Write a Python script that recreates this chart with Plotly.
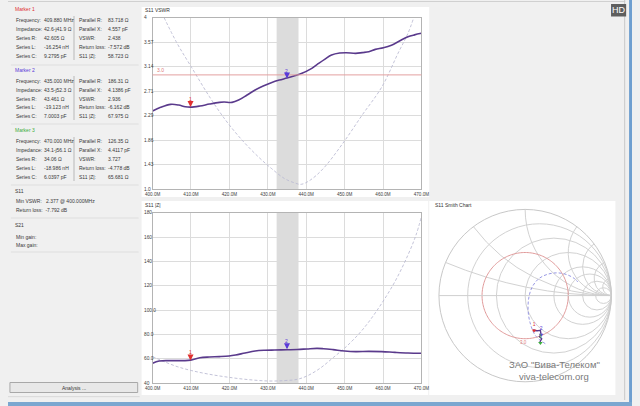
import numpy as np
import plotly.graph_objects as go

W, H = 640, 406
def px(x): return x / W
def py(y): return 1 - y / H

FONT = "Liberation Sans"

# ---------------- data ----------------
x_ticks = [400, 410, 420, 430, 440, 450, 460, 470]
x_tick_labels = ["400.0M", "410.0M", "420.0M", "430.0M", "440.0M", "450.0M", "460.0M", "470.0M"]

vswr_ticks = [1.0, 1.4286, 1.8571, 2.2857, 2.7143, 3.1429, 3.5714, 4.0]
vswr_tick_labels = ["1.0", "1.43", "1.86", "2.29", "2.71", "3.14", "3.57", "4"]

z_ticks = [40, 60, 80, 100, 120, 140, 160, 180]
z_tick_labels = ["40", "60.0", "80.0", "100.0", "120", "140", "160", "180"]

freq_main_vswr = [400.0, 402.1, 404.7, 406.8, 408.5, 409.9, 412.3, 414.8, 417.4, 418.6, 420.7,
                  422.4, 424.6, 426.7, 428.8, 430.9, 433.0, 435.0, 436.8, 438.9, 441.1, 442.8,
                  444.9, 446.6, 448.7, 450.4, 452.9, 454.6, 456.3, 458.0, 460.1, 462.2, 464.4,
                  466.5, 468.2, 470.0]
main_vswr = [2.369, 2.433, 2.485, 2.473, 2.444, 2.436, 2.456, 2.490, 2.520, 2.525, 2.520,
             2.560, 2.648, 2.736, 2.805, 2.864, 2.910, 2.945, 2.980, 3.027, 3.100, 3.180,
             3.277, 3.347, 3.382, 3.388, 3.376, 3.390, 3.405, 3.446, 3.475, 3.520, 3.597,
             3.667, 3.700, 3.727]

freq_ghost_vswr = [403.0, 406.4, 410.2, 414.8, 419.0, 423.3, 427.5, 430.9, 434.3, 436.8, 438.7,
                   441.1, 444.5, 449.5, 454.6, 459.7, 463.9, 466.5, 468.0]
ghost_vswr = [4.0, 3.55, 3.126, 2.62, 2.21, 1.86, 1.57, 1.367, 1.19, 1.116, 1.087,
              1.163, 1.367, 1.80, 2.30, 2.79, 3.376, 3.726, 4.0]

freq_main_z = [400.0, 401.7, 404.7, 408.1, 409.9, 412.3, 414.8, 417.4, 419.9, 421.6, 424.1,
               426.7, 429.2, 431.8, 435.0, 437.7, 440.2, 442.8, 444.5, 447.0, 450.0, 452.9,
               456.3, 459.7, 463.1, 466.5, 470.0]
main_z = [56.4, 58.3, 58.6, 58.6, 59.0, 61.0, 61.6, 61.9, 62.4, 63.2, 64.9,
          66.5, 67.1, 67.3, 67.5, 67.7, 68.2, 68.7, 68.4, 67.6, 66.5, 66.0,
          66.2, 66.0, 65.4, 64.9, 64.6]

freq_ghost_z = [400.0, 403.0, 406.4, 410.2, 414.8, 419.9, 425.0, 430.1, 434.3, 437.7, 440.2,
                443.6, 447.0, 450.4, 454.6, 458.8, 463.1, 466.5, 468.6, 470.0]
ghost_z = [61.9, 57.8, 53.7, 50.4, 47.4, 44.9, 43.0, 41.9, 42.2, 43.3, 46.0,
           52.3, 61.0, 70.0, 83.7, 101.5, 123.4, 145.3, 161.7, 176.7]

band = [432.3, 438.0]
vswr_limit = 3.0

marker_names = ["1", "2", "3"]
marker_colors = ["#e03030", "#5a3ad8", "#3cae3c"]
marker_freq = [409.88, 435.0, 470.0]
marker_vswr = [2.438, 2.936, 3.727]
marker_zmag = [58.723, 67.975, 65.681]
marker_r = [42.6, 43.5, 34.1]
marker_x = [-41.9, -52.3, -56.1]

# Smith chart traces (reflection coefficient)
main_g_re = [0.100, 0.104, 0.140, 0.177, 0.185, 0.166, 0.192, 0.174, 0.177]
main_g_im = [-0.390, -0.406, -0.408, -0.404, -0.456, -0.475, -0.502, -0.532, -0.549]
ghost_g_re = [0.234, 0.120, 0.057, 0.034, 0.045, 0.083, 0.158, 0.253, 0.366, 0.479, 0.574, 0.611]
ghost_g_im = [-0.558, -0.464, -0.313, -0.162, -0.011, 0.102, 0.196, 0.245, 0.264, 0.245, 0.196, 0.158]

marker_rows = [
    [("Frequency:", "409.880 MHz", "Parallel R:", "83.718 Ω"),
     ("Impedance:", "42.6-j41.9 Ω", "Parallel X:", "4.557 pF"),
     ("Series R:", "42.605 Ω", "VSWR:", "2.438"),
     ("Series L:", "-16.254 nH", "Return loss:", "-7.572 dB"),
     ("Series C:", "9.2795 pF", "S11 |Z|:", "58.723 Ω")],
    [("Frequency:", "435.000 MHz", "Parallel R:", "186.31 Ω"),
     ("Impedance:", "43.5-j52.3 Ω", "Parallel X:", "4.1386 pF"),
     ("Series R:", "43.461 Ω", "VSWR:", "2.936"),
     ("Series L:", "-19.123 nH", "Return loss:", "-6.162 dB"),
     ("Series C:", "7.0003 pF", "S11 |Z|:", "67.975 Ω")],
    [("Frequency:", "470.000 MHz", "Parallel R:", "126.35 Ω"),
     ("Impedance:", "34.1-j56.1 Ω", "Parallel X:", "4.4117 pF"),
     ("Series R:", "34.06 Ω", "VSWR:", "3.727"),
     ("Series L:", "-18.986 nH", "Return loss:", "-4.778 dB"),
     ("Series C:", "6.0397 pF", "S11 |Z|:", "65.681 Ω")],
]
summary_rows = [("S11", True), ("Min VSWR:   2.377 @ 400.000MHz", False), ("Return loss:  -7.792 dB", False),
                ("S21", True), ("Min gain:", False), ("Max gain:", False)]

# ---------------- helpers ----------------
def g2z(re, im):
    g = np.array(re) + 1j * np.array(im)
    z = (1 + g) / (1 - g)
    return z.real, z.imag

fig = go.Figure()

GHOST = "#bcbcd4"
MAIN = "#5a3a8c"

# VSWR chart
fig.add_trace(go.Scatter(x=freq_ghost_vswr, y=ghost_vswr, mode="lines", xaxis="x", yaxis="y",
                         line=dict(color=GHOST, width=0.9, dash="3px,2px", shape="spline"),
                         showlegend=False, hoverinfo="skip"))
fig.add_trace(go.Scatter(x=freq_main_vswr, y=main_vswr, mode="lines", xaxis="x", yaxis="y",
                         line=dict(color=MAIN, width=1.6, shape="spline"),
                         showlegend=False, hoverinfo="skip"))
# |Z| chart
fig.add_trace(go.Scatter(x=freq_ghost_z, y=ghost_z, mode="lines", xaxis="x2", yaxis="y2",
                         line=dict(color=GHOST, width=0.9, dash="3px,2px", shape="spline"),
                         showlegend=False, hoverinfo="skip"))
fig.add_trace(go.Scatter(x=freq_main_z, y=main_z, mode="lines", xaxis="x2", yaxis="y2",
                         line=dict(color=MAIN, width=1.6, shape="spline"),
                         showlegend=False, hoverinfo="skip"))

# Smith chart
theta = np.linspace(0, 2 * np.pi, 181)
g_lim = (vswr_limit - 1) / (vswr_limit + 1)
cr, ci = g2z(g_lim * np.cos(theta), g_lim * np.sin(theta))
fig.add_trace(go.Scattersmith(real=cr, imag=ci, mode="lines", line=dict(color="#e09a9a", width=1),
                              showlegend=False, hoverinfo="skip", subplot="smith"))
gr, gi = g2z(ghost_g_re, ghost_g_im)
fig.add_trace(go.Scattersmith(real=gr, imag=gi, mode="lines",
                              line=dict(color="#8c8ce0", width=0.9, dash="3px,2px", shape="spline"),
                              showlegend=False, hoverinfo="skip", subplot="smith"))
mr, mi = g2z(main_g_re, main_g_im)
fig.add_trace(go.Scattersmith(real=mr, imag=mi, mode="lines", line=dict(color=MAIN, width=1.4),
                              showlegend=False, hoverinfo="skip", subplot="smith"))
fig.add_trace(go.Scattersmith(real=[r / 50 for r in marker_r], imag=[x / 50 for x in marker_x],
                              mode="markers+text", text=marker_names, textposition="top center",
                              textfont=dict(size=5, color=marker_colors, family=FONT),
                              marker=dict(symbol="triangle-down", size=4, color=marker_colors),
                              showlegend=False, hoverinfo="skip", subplot="smith"))

# ---------------- shapes ----------------
shapes = []
def rect(x0, y0, x1, y1, fill, line=None, lw=0, layer="below"):
    shapes.append(dict(type="rect", xref="paper", yref="paper", x0=px(x0), x1=px(x1), y0=py(y1), y1=py(y0),
                       fillcolor=fill, line=dict(color=line or fill, width=lw), layer=layer))
def hline(x0, x1, y, color, w=1):
    shapes.append(dict(type="line", xref="paper", yref="paper", x0=px(x0), x1=px(x1), y0=py(y), y1=py(y),
                       line=dict(color=color, width=w), layer="below"))
def vline(x, y0, y1, color, w=1):
    shapes.append(dict(type="line", xref="paper", yref="paper", x0=px(x), x1=px(x), y0=py(y0), y1=py(y1),
                       line=dict(color=color, width=w), layer="below"))

# panels
rect(137, 7, 432, 197, "white")
rect(137, 201, 431, 395, "white")
rect(432, 201, 623, 395, "white")
hline(0, 633, 1.5, "#d0d0d0")
vline(632.5, 0, 400, "#c8c8c8")
rect(637, 0, 640, 406, "#6f9fd0")
rect(0, 402, 640, 406, "#7ba7d0")
hline(0, 135, 396.7, "#d8d8d8")

# left panel separators
for y in [65, 124, 185, 218, 252]:
    hline(3, 134, y, "#dedede")
for y0, y1 in [(16, 60), (76, 120), (137, 181)]:
    vline(67.7, y0, y1, "#b8b8b8")

# analysis button
shapes.append(dict(type="rect", xref="paper", yref="paper", x0=px(2), x1=px(133), y0=py(392.5), y1=py(382.5),
                   fillcolor="#e8e8e8", line=dict(color="#a8a8a8", width=1), layer="below"))
# HD badge
shapes.append(dict(type="rect", xref="paper", yref="paper", x0=px(618.5), x1=px(634), y0=py(16.5), y1=py(4),
                   fillcolor="#5e5e5e", line=dict(color="#5e5e5e", width=0), layer="above"))

# band + VSWR limit
for xa, ya in [("x", "y"), ("x2", "y2")]:
    shapes.append(dict(type="rect", xref=xa, yref=ya + " domain", x0=band[0], x1=band[1], y0=0, y1=1,
                       fillcolor="#dcdcdc", line=dict(width=0), layer="below"))
shapes.append(dict(type="line", xref="x domain", yref="y", x0=0, x1=1, y0=vswr_limit, y1=vswr_limit,
                   line=dict(color="#e3a0a0", width=1), layer="above"))

# ---------------- annotations ----------------
ann = []
def txt(x, y, s, size=5.0, color="#383838", anchor="left", **kw):
    ann.append(dict(x=px(x), y=py(y), xref="paper", yref="paper", text=s, showarrow=False,
                    xanchor=anchor, yanchor="middle", font=dict(size=size, color=color, family=FONT), **kw))

headers_y = [9.3, 70.0, 129.5]
rows_y0 = [20.3, 80.7, 141.0]
for k in range(3):
    txt(5, headers_y[k], "Marker %d" % (k + 1), color=marker_colors[k])
    for i, (a, b, c, d) in enumerate(marker_rows[k]):
        y = rows_y0[k] + i * 8.9
        txt(6, y, a)
        txt(35, y, b)
        txt(71, y, c)
        txt(100, y, d)
summary_y = [191, 201.3, 210.3, 225, 236.7, 245.3]
for (s, head), y in zip(summary_rows, summary_y):
    txt(5 if head else 6, y, s.replace("  ", "&nbsp;&nbsp;"))
txt(67.5, 387.5, "Analysis ...", anchor="center", color="#333333")
txt(626.2, 10.3, "HD", size=9, color="white", anchor="center")

# panel titles
txt(138, 10.5, "S11 VSWR", color="#333333")
txt(138, 205, "S11 |Z|", color="#333333")
txt(436, 205, "S11 Smith Chart", color="#333333")

# y tick labels (left aligned at panel edge)
for v, s in zip(vswr_ticks, vswr_tick_labels):
    ann.append(dict(x=px(137.5), xref="paper", y=v, yref="y", text=s, showarrow=False, xanchor="left",
                    yanchor="middle", font=dict(size=4.8, color="#404040", family=FONT)))
for v, s in zip(z_ticks, z_tick_labels):
    ann.append(dict(x=px(137.5), xref="paper", y=v, yref="y2", text=s, showarrow=False, xanchor="left",
                    yanchor="middle", font=dict(size=4.8, color="#404040", family=FONT)))

# VSWR limit label
ann.append(dict(x=400.6, y=vswr_limit, xref="x", yref="y", text="3.0", showarrow=False, xanchor="left",
                yanchor="bottom", yshift=0, font=dict(size=5, color="#e07a7a", family=FONT)))

# markers on rectangular charts
for k in range(2):
    for xa, ya, yv in [("x", "y", marker_vswr[k]), ("x2", "y2", marker_zmag[k])]:
        ann.append(dict(x=marker_freq[k], y=yv, xref=xa, yref=ya, text=marker_names[k], showarrow=True,
                        arrowhead=2, arrowsize=1, arrowwidth=1.2, arrowcolor=marker_colors[k], ax=0, ay=-8,
                        standoff=0, font=dict(size=5, color=marker_colors[k], family=FONT)))

# Smith VSWR label + watermark
txt(528.5, 342, "3.0", size=4.5, color="#e07a7a", anchor="center")
txt(560, 364, "ЗАО \"Вива-Телеком\"", size=9.5, color="#7a7a7a", anchor="center")
txt(560, 376, "viva-telecom.org", size=9.5, color="#7a7a7a", anchor="center")

axis_common = dict(showgrid=True, gridcolor="#dcdcdc", gridwidth=1, showline=True, linecolor="#b4b4b4",
                   linewidth=1, mirror=True, zeroline=False, ticks="", fixedrange=True)

fig.update_layout(
    width=W, height=H, autosize=False,
    margin=dict(l=0, r=0, t=0, b=0),
    paper_bgcolor="#f0f0f0", plot_bgcolor="white",
    showlegend=False,
    font=dict(family=FONT, size=5, color="#404040"),
    xaxis=dict(domain=[px(148.3), px(424)], range=[400, 470], tickvals=x_ticks, ticktext=x_tick_labels,
               tickfont=dict(size=4.6, color="#404040", family=FONT), anchor="y", **axis_common),
    yaxis=dict(domain=[py(189.3), py(17.7)], range=[1, 4], tickvals=vswr_ticks, showticklabels=False,
               anchor="x", **axis_common),
    xaxis2=dict(domain=[px(148.3), px(424)], range=[400, 470], tickvals=x_ticks, ticktext=x_tick_labels,
                tickfont=dict(size=4.6, color="#404040", family=FONT), anchor="y2", **axis_common),
    yaxis2=dict(domain=[py(383.3), py(212.7)], range=[40, 180], tickvals=z_ticks, showticklabels=False,
                anchor="x2", **axis_common),
    smith=dict(
        domain=dict(x=[px(442), px(618.8)], y=[py(384), py(207.2)]),
        bgcolor="white",
        realaxis=dict(tickvals=[0.2, 0.5, 1, 2, 3, 5, 10], showticklabels=False, ticks="",
                      gridcolor="#d2d2d2", linecolor="#cfcfcf", showline=True, gridwidth=1),
        imaginaryaxis=dict(tickvals=[0.2, 0.5, 1, 2, 3, 5, 10], showticklabels=False, ticks="",
                           gridcolor="#d2d2d2", linecolor="#c8c8c8", showline=True, gridwidth=1),
    ),
    shapes=shapes,
    annotations=ann,
)

fig.write_html("out.html", config={"displayModeBar": False},
               post_script="document.body.style.margin='0px';document.body.style.overflow='hidden';")
